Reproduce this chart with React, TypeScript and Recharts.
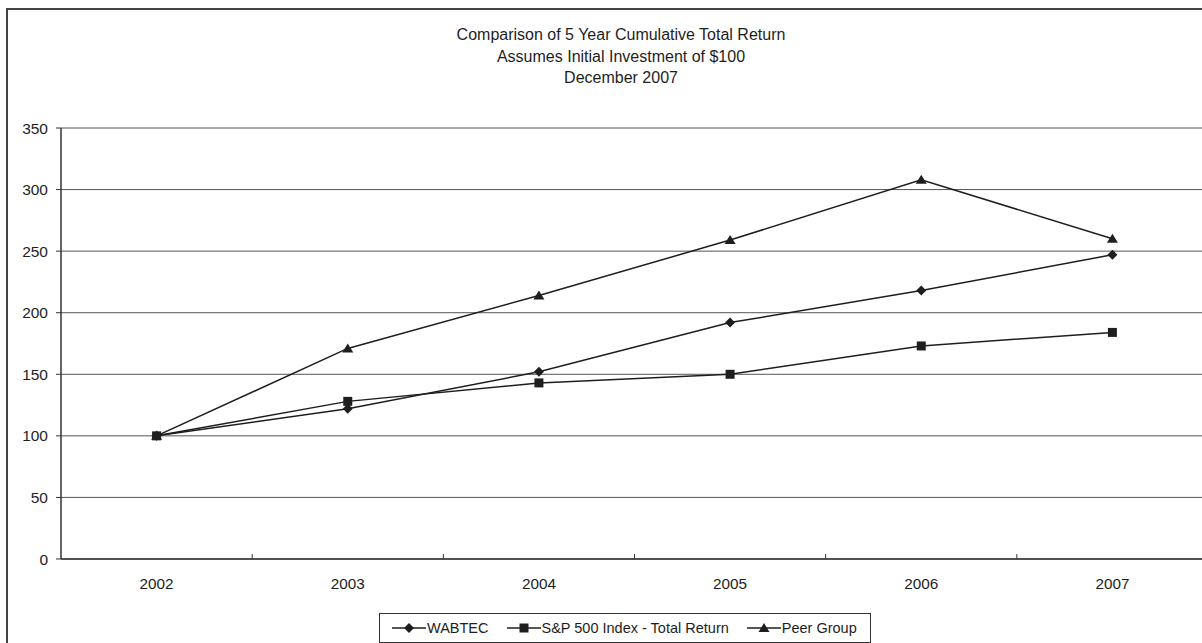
import React from "react";
import { CartesianGrid, Legend, Line, LineChart, XAxis, YAxis } from "recharts";

// 5-year cumulative total return, indexed to $100 at December 2002
const years = ["2002", "2003", "2004", "2005", "2006", "2007"];
const wabtec = [100, 122, 152, 192, 218, 247];
const sp500 = [100, 128, 143, 150, 173, 184];
const peerGroup = [100, 171, 214, 259, 308, 260];

const yTicks = [0, 50, 100, 150, 200, 250, 300, 350];
const titleLines = [
  "Comparison of 5 Year Cumulative Total Return",
  "Assumes Initial Investment of $100",
  "December 2007",
];

const FONT = '"Liberation Sans", Arial, Helvetica, sans-serif';
const INK = "#1e1e1e";

const data = years.map((year, i) => ({
  year,
  wabtec: wabtec[i],
  sp500: sp500[i],
  peer: peerGroup[i],
}));

type Shape = "diamond" | "square" | "triangle";

function markerPath(shape: Shape, cx: number, cy: number): string {
  if (shape === "diamond") {
    return `M${cx},${cy - 5}L${cx + 5},${cy}L${cx},${cy + 5}L${cx - 5},${cy}Z`;
  }
  if (shape === "square") {
    return `M${cx - 4.5},${cy - 4.5}h9v9h-9Z`;
  }
  return `M${cx},${cy - 5}L${cx + 5.5},${cy + 4}L${cx - 5.5},${cy + 4}Z`;
}

const makeDot = (shape: Shape) => (props: any) => {
  const { cx, cy, index } = props;
  if (cx == null || cy == null) return <g key={index} />;
  return <path key={index} d={markerPath(shape, cx, cy)} fill={INK} stroke="none" />;
};

// year label in the band centre, small inward tick on the band's left edge
function YearTick(props: any) {
  const { x, y, payload, index, width, visibleTicksCount } = props;
  const half =
    typeof payload?.offset === "number" && payload.offset > 0
      ? payload.offset
      : width / visibleTicksCount / 2;
  const axisY = y - 8;
  return (
    <g>
      {index > 0 && (
        <line x1={x - half} x2={x - half} y1={axisY} y2={axisY - 5} stroke="#333" strokeWidth={1} />
      )}
      <text x={x} y={axisY + 29.5} textAnchor="middle" fill={INK} fontSize={15.3} fontFamily={FONT}>
        {payload.value}
      </text>
    </g>
  );
}

const legendItems: { label: string; shape: Shape }[] = [
  { label: "WABTEC", shape: "diamond" },
  { label: "S&P 500 Index - Total Return", shape: "square" },
  { label: "Peer Group", shape: "triangle" },
];

function LegendIcon({ shape }: { shape: Shape }) {
  return (
    <svg width={34} height={12} style={{ display: "block" }}>
      <line x1={0} x2={34} y1={6} y2={6} stroke={INK} strokeWidth={1.5} />
      <path d={markerPath(shape, 17, 6)} fill={INK} />
    </svg>
  );
}

function LegendBox() {
  return (
    <div
      style={{
        boxSizing: "border-box",
        width: 492,
        height: 30,
        border: "1px solid #333",
        background: "#fff",
        display: "flex",
        alignItems: "center",
        paddingLeft: 12,
        gap: 18,
        fontFamily: FONT,
        fontSize: 14.5,
        color: INK,
      }}
    >
      {legendItems.map((item) => (
        <div key={item.label} style={{ display: "flex", alignItems: "center", gap: 1 }}>
          <LegendIcon shape={item.shape} />
          <span style={{ whiteSpace: "nowrap" }}>{item.label}</span>
        </div>
      ))}
    </div>
  );
}

export default function App() {
  return (
    <div
      style={{
        position: "fixed",
        left: 0,
        top: 0,
        width: 1202,
        height: 643,
        overflow: "hidden",
        background: "#fff",
      }}
    >
      {/* outer chart frame, runs off the right and bottom edges */}
      <div
        style={{
          position: "absolute",
          left: 6,
          top: 8,
          width: 1300,
          height: 700,
          border: "2px solid #444",
          boxSizing: "border-box",
        }}
      />
      <div
        style={{
          position: "absolute",
          left: 321,
          top: 24,
          width: 600,
          textAlign: "center",
          fontFamily: FONT,
          fontSize: 16,
          lineHeight: "21.5px",
          color: INK,
        }}
      >
        {titleLines.map((t) => (
          <div key={t}>{t}</div>
        ))}
      </div>
      <div style={{ position: "absolute", left: 0, top: 0 }}>
        <LineChart width={1214} height={643} data={data} margin={{ top: 128, right: 6, bottom: 0, left: 0 }}>
          <CartesianGrid vertical={false} stroke="#555" strokeWidth={1} />
          <XAxis
            dataKey="year"
            scale="band"
            height={54}
            interval={0}
            axisLine={{ stroke: "#333", strokeWidth: 1.5 }}
            tickLine={false}
            tick={<YearTick />}
          />
          <YAxis
            width={61}
            domain={[0, 350]}
            ticks={yTicks}
            interval={0}
            tickSize={5}
            tickMargin={8}
            axisLine={{ stroke: "#333", strokeWidth: 1.5 }}
            tickLine={{ stroke: "#333" }}
            tick={{ fill: INK, fontSize: 15.5, fontFamily: FONT }}
          />
          <Legend
            verticalAlign="bottom"
            content={() => <LegendBox />}
            wrapperStyle={{ left: 379, width: 492, bottom: 0 }}
          />
          <Line
            dataKey="wabtec"
            name="WABTEC"
            stroke={INK}
            strokeWidth={1.5}
            dot={makeDot("diamond")}
            activeDot={false}
            isAnimationActive={false}
          />
          <Line
            dataKey="sp500"
            name="S&P 500 Index - Total Return"
            stroke={INK}
            strokeWidth={1.5}
            dot={makeDot("square")}
            activeDot={false}
            isAnimationActive={false}
          />
          <Line
            dataKey="peer"
            name="Peer Group"
            stroke={INK}
            strokeWidth={1.5}
            dot={makeDot("triangle")}
            activeDot={false}
            isAnimationActive={false}
          />
        </LineChart>
      </div>
    </div>
  );
}
